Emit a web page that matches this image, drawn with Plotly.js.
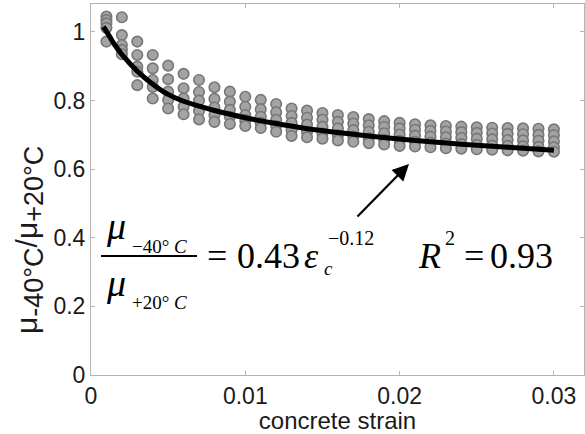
<!DOCTYPE html>
<html><head><meta charset="utf-8">
<script src="https://cdn.plot.ly/plotly-3.0.1.min.js"></script>
<style>html,body{margin:0;padding:0;background:#fff}</style>
</head><body><div id="chart" style="width:585px;height:434px"></div>
<script>
const strain = [0.001,0.002,0.003,0.004,0.005,0.006,0.007,0.008,0.009,0.010,
  0.011,0.012,0.013,0.014,0.015,0.016,0.017,0.018,0.019,0.020,
  0.021,0.022,0.023,0.024,0.025,0.026,0.027,0.028,0.029,0.030];
const ratioSet1 = [1.045,1.043,0.972,0.933,0.902,0.878,0.860,0.839,0.826,0.811,0.802,0.790,0.777,0.771,0.764,0.758,0.752,0.746,0.740,0.735,0.731,0.728,0.726,0.724,0.722,0.721,0.720,0.719,0.718,0.716];
const ratioSet2 = [1.035,0.991,0.933,0.894,0.862,0.836,0.825,0.805,0.797,0.782,0.775,0.766,0.755,0.750,0.744,0.738,0.733,0.728,0.723,0.719,0.715,0.712,0.710,0.708,0.706,0.704,0.703,0.702,0.700,0.699];
const ratioSet3 = [1.025,0.962,0.899,0.860,0.826,0.806,0.800,0.780,0.773,0.758,0.753,0.744,0.735,0.730,0.724,0.719,0.714,0.709,0.705,0.701,0.698,0.695,0.693,0.691,0.689,0.687,0.685,0.684,0.683,0.681];
const ratioSet4 = [1.012,0.948,0.884,0.840,0.802,0.782,0.770,0.758,0.753,0.743,0.735,0.726,0.714,0.709,0.704,0.699,0.695,0.690,0.686,0.683,0.680,0.677,0.675,0.673,0.671,0.669,0.668,0.667,0.665,0.664];
const ratioSet5 = [0.972,0.935,0.845,0.806,0.777,0.760,0.745,0.738,0.732,0.726,0.720,0.709,0.697,0.693,0.689,0.684,0.680,0.676,0.672,0.668,0.666,0.664,0.661,0.660,0.658,0.657,0.655,0.654,0.652,0.651];
const fitStrain = [0.0008,0.001,0.0015,0.002,0.003,0.004,0.005,0.006,0.007,0.008,0.010,0.012,0.014,0.016,0.018,0.020,0.022,0.024,0.026,0.028,0.030];
const fitRatio = [1.015,1.002,0.965,0.935,0.886,0.848,0.818,0.798,0.784,0.771,0.750,0.733,0.718,0.707,0.697,0.688,0.680,0.673,0.667,0.661,0.655];
const xTickVals = [0,0.01,0.02,0.03];
const xTickText = ['0','0.01','0.02','0.03'];
const yTickVals = [0,0.2,0.4,0.6,0.8,1];
const yTickText = ['0','0.2','0.4','0.6','0.8','1'];

const sets = [ratioSet1,ratioSet2,ratioSet3,ratioSet4,ratioSet5];
const traces = sets.map(s => ({
  x: strain, y: s, type: 'scatter', mode: 'markers', showlegend: false, hoverinfo: 'skip',
  marker: {size: 10.5, color: '#a3a3a3', line: {color: '#777777', width: 1.6}}
}));
traces.push({x: fitStrain, y: fitRatio, type: 'scatter', mode: 'lines', showlegend: false,
  line: {color: '#000', width: 5, shape: 'spline'}});

// plot area in pixels: x 91..584, y 4..375
const PX = p => (p - 91) / 493;
const PY = p => (375 - p) / 371;
const serif = 'Liberation Serif, Times New Roman, serif';
function ann(text, px, py, size, anchor) {
  return {text: text, xref: 'paper', yref: 'paper', x: PX(px), y: PY(py),
    xanchor: anchor || 'left', yanchor: 'middle', showarrow: false,
    font: {family: serif, size: size, color: '#000'}};
}
const annotations = [
  ann('<i>μ</i>', 116, 226, 38, 'center'),
  ann('−40° <i>C</i>', 130, 246, 19),
  ann('<i>μ</i>', 116, 283, 38, 'center'),
  ann('+20° <i>C</i>', 130, 302, 19),
  ann('=', 217, 256, 36, 'center'),
  ann('0.43', 268, 256, 36, 'center'),
  ann('<i>ε</i>', 311, 256, 36, 'center'),
  ann('<i>c</i>', 328, 268, 19, 'center'),
  ann('−0.12', 351, 238, 20, 'center'),
  ann('<i>R</i>', 429, 256, 36, 'center'),
  ann('2', 450, 238, 20, 'center'),
  ann('=', 474, 256, 36, 'center'),
  ann('0.93', 521, 256, 36, 'center'),
  {text: '', xref: 'paper', yref: 'paper', x: PX(409), y: PY(164), ax: -53, ay: 54,
   showarrow: true, arrowhead: 2, arrowsize: 1.5, arrowwidth: 2.2, arrowcolor: '#000'},
  {text: 'μ<sub><span style="font-size:27px">-40°C</span></sub>/μ<sub><span style="font-size:27px">+20°C</span></sub>',
   xref: 'paper', yref: 'paper', x: PX(29), y: PY(240), textangle: -90,
   xanchor: 'center', yanchor: 'middle', showarrow: false,
   font: {family: 'Liberation Sans, Arial, sans-serif', size: 30, color: '#1a1a1a'}}
];

const axisCommon = {
  showgrid: false, zeroline: false, showline: true, linecolor: '#b4b4b4', linewidth: 1,
  mirror: 'ticks', ticks: 'inside', ticklen: 4, tickcolor: '#b4b4b4',
  tickfont: {family: 'Liberation Sans, Arial, sans-serif', size: 23, color: '#1a1a1a'}
};
const layout = {
  width: 585, height: 434, margin: {l: 91, r: 1, t: 4, b: 59},
  paper_bgcolor: '#fff', plot_bgcolor: '#fff', showlegend: false,
  xaxis: Object.assign({}, axisCommon, {range: [0, 0.03195], tickvals: xTickVals, ticktext: xTickText,
    title: {text: 'concrete strain', standoff: 0, font: {family: 'Liberation Sans, Arial, sans-serif', size: 24, color: '#1a1a1a'}}}),
  yaxis: Object.assign({}, axisCommon, {range: [0, 1.0816], tickvals: yTickVals, ticktext: yTickText}),
  shapes: [{type: 'line', xref: 'paper', yref: 'paper', x0: PX(101), x1: PX(197), y0: PY(256), y1: PY(256),
    line: {color: '#000', width: 2}}],
  annotations: annotations
};
Plotly.newPlot('chart', traces, layout, {displayModeBar: false, staticPlot: true});
</script></body></html>
